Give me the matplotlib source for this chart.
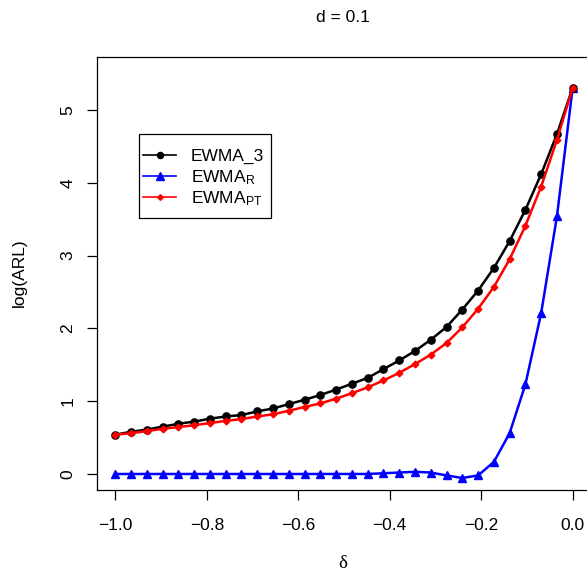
import numpy as np
import matplotlib
matplotlib.use("Agg")
import matplotlib.pyplot as plt
from matplotlib.patches import Rectangle
from matplotlib.lines import Line2D

plt.rcParams['font.family'] = ['Liberation Sans', 'DejaVu Sans']
plt.rcParams['mathtext.fontset'] = 'custom'
plt.rcParams['mathtext.rm'] = 'Liberation Sans'
plt.rcParams['mathtext.it'] = 'Liberation Sans'

# shift sizes delta
delta = np.linspace(-1.0, 0.0, 30)

# log(ARL) for each chart
ewma_3 = [0.54, 0.58, 0.61, 0.65, 0.69, 0.72, 0.76, 0.79, 0.81, 0.86,
          0.90, 0.96, 1.02, 1.085, 1.16, 1.24, 1.32, 1.44, 1.56, 1.69,
          1.845, 2.02, 2.26, 2.52, 2.83, 3.20, 3.63, 4.12, 4.67, 5.31]
ewma_r = [0.0, 0.0, 0.0, 0.0, 0.0, 0.0, 0.0, 0.0, 0.0, 0.0,
          0.0, 0.0, 0.0, 0.0, 0.0, 0.0, 0.0, 0.01, 0.02, 0.03,
          0.02, -0.02, -0.055, -0.02, 0.165, 0.56, 1.23, 2.21, 3.54, 5.31]
ewma_pt = [0.54, 0.56, 0.59, 0.62, 0.645, 0.67, 0.70, 0.73, 0.755, 0.79,
           0.82, 0.87, 0.92, 0.97, 1.035, 1.11, 1.19, 1.285, 1.39, 1.51,
           1.64, 1.80, 2.015, 2.27, 2.57, 2.95, 3.41, 3.95, 4.59, 5.31]

series_labels = ['EWMA_3', r'EWMA$_\mathrm{R}$', r'EWMA$_\mathrm{PT}$']

x_ticks = [-1.0, -0.8, -0.6, -0.4, -0.2, 0.0]
x_tick_labels = ["\u22121.0", "\u22120.8", "\u22120.6", "\u22120.4", "\u22120.2", "0.0"]
y_ticks = [0, 1, 2, 3, 4, 5]

W, H = 587, 577
fs = 12.5
fig = plt.figure(figsize=(W / 100, H / 100), dpi=100)
ax = fig.add_axes([97 / W, 1 - 490 / H, (591 - 97) / W, (490 - 57) / H])

lw = 1.8
styles = [dict(color='black', marker='o', ms=5.2),
          dict(color='blue', marker='^', ms=6.2),
          dict(color='red', marker='D', ms=3.4)]
for ys, st, z in zip([ewma_3, ewma_r, ewma_pt], styles, [3, 2, 4]):
    ax.plot(delta, ys, lw=lw, zorder=z, **st)

ax.set_xlim(-1.04, 0.04)
ax.set_ylim(-0.22, 5.73)

ax.set_xticks(x_ticks)
ax.set_xticklabels(x_tick_labels)
ax.set_yticks(y_ticks)
ax.set_yticklabels([str(v) for v in y_ticks], rotation=90, va='center')
ax.tick_params(axis='both', direction='out', length=7.5, width=0.9,
               labelsize=fs)
ax.tick_params(axis='x', pad=13)
ax.tick_params(axis='y', pad=8)
for s in ax.spines.values():
    s.set_linewidth(0.9)

fig.text(343 / W, 1 - 17 / H, "d = 0.1", ha='center', va='center', fontsize=fs)
fig.text(19 / W, 1 - 273 / H, "log(ARL)", ha='center', va='center',
         rotation=90, fontsize=fs)
fig.text(343 / W, 1 - 563 / H, "\u03b4", ha='center', va='center',
         fontsize=fs + 1, family=['Liberation Serif', 'DejaVu Serif'])

# legend box in figure pixel units
def fx(px):
    return px / W

def fy(py):
    return 1 - py / H

fig.patches.append(Rectangle((fx(139), fy(218)), fx(271) - fx(139),
                             fy(134) - fy(218), transform=fig.transFigure,
                             facecolor='white', edgecolor='black',
                             linewidth=0.9, zorder=5))
for i, (lab, st) in enumerate(zip(series_labels, styles)):
    yrow = 155 + 21 * i
    fig.lines.append(Line2D([fx(143), fx(176)], [fy(yrow), fy(yrow)],
                            transform=fig.transFigure, color=st['color'],
                            lw=1.2, zorder=6))
    fig.lines.append(Line2D([fx(159.5)], [fy(yrow)], transform=fig.transFigure,
                            color=st['color'], marker=st['marker'],
                            ms=st['ms'] * 0.85, lw=0, zorder=6))
    fig.text(fx(191), fy(yrow + 6), lab, ha='left', va='baseline',
             fontsize=fs, zorder=7)

fig.savefig("out.png", dpi=100)
